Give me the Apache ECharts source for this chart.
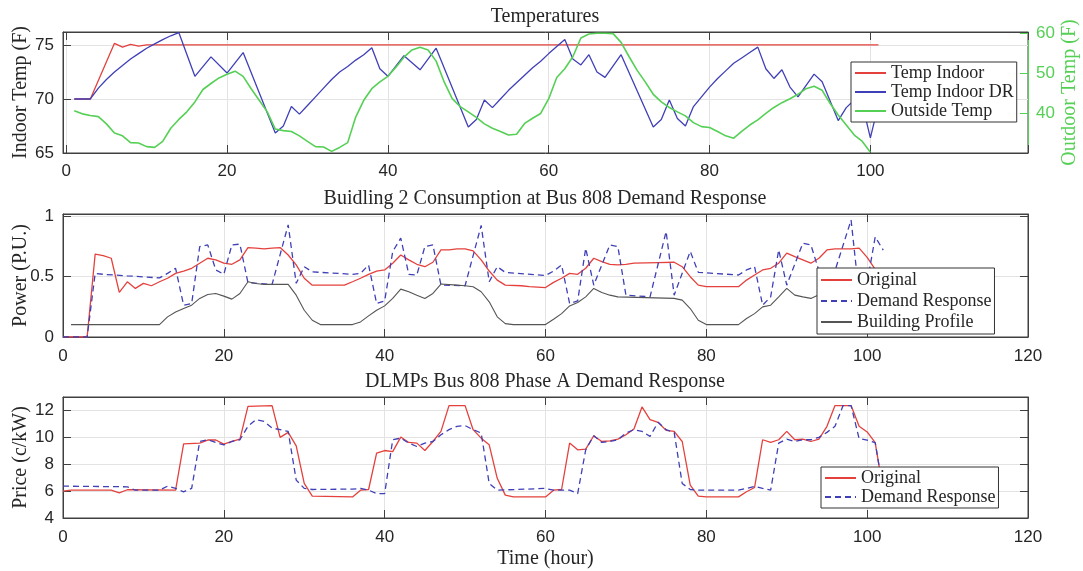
<!DOCTYPE html>
<html>
<head>
<meta charset="utf-8">
<script src="https://cdn.jsdelivr.net/npm/echarts@6/dist/echarts.min.js"></script>
<style>
  html, body { margin: 0; background: #fff; }
  #main { width: 1083px; height: 571px; }
</style>
</head>
<body>
<div id="main"></div>
<script>
// ---- Temperatures panel ----
var indoorHours = [1, 3, 6, 7, 8, 9, 10, 101];
var indoorTemp  = [70, 70, 75.15, 74.8, 75.05, 74.9, 75, 75];

var indoorDRHours = [1, 3, 4, 5, 6, 7, 8, 9, 10, 11, 12, 13, 14, 16, 18, 20, 22, 26, 27, 28, 29, 30, 31, 32, 33, 34, 35, 36, 37, 38,
  39, 40, 42, 44, 46, 50, 51, 52, 53, 54, 55, 56, 57, 58, 59, 60, 61, 62, 63, 64, 65, 66, 67, 69, 73, 74, 75, 76, 77, 78,
  79, 80, 81, 82, 83, 84, 85, 86, 87, 88, 89, 90, 91, 93, 94, 96, 97, 98, 99, 100, 101];
var indoorDRTemp  = [70, 70, 71.0, 71.8, 72.5, 73.1, 73.7, 74.2, 74.7, 75.1, 75.5, 75.85, 76.15, 72.1, 73.9, 72.4, 74.3, 66.85, 67.5, 69.3, 68.6, 69.4, 70.2, 71.0, 71.8, 72.5, 73.0, 73.6, 74.1, 74.75,
  72.8, 72.1, 74.0, 72.7, 74.7, 67.4, 68.1, 69.9, 69.2, 70.0, 70.8, 71.5, 72.2, 72.9, 73.5, 74.2, 74.85, 75.5, 73.7, 73.15, 74.1, 72.5, 72.0, 74.1, 67.4, 68.1, 69.9, 68.2, 67.5, 69.3,
  70.2, 71.1, 71.9, 72.6, 73.3, 73.8, 74.3, 74.8, 72.8, 71.9, 72.7, 71.1, 70.2, 72.3, 71.6, 68.0, 69.2, 69.9, 69.5, 66.4, 69.5];

var outsideHours = [1, 2, 3, 4, 5, 6, 7, 8, 9, 10, 11, 12, 13, 14, 15, 16, 17, 18, 19, 20, 21, 22, 23, 24, 25, 26, 27, 28, 29, 30,
  31, 32, 33, 34, 35, 36, 37, 38, 39, 40, 41, 42, 43, 44, 45, 46, 47, 48, 49, 50, 51, 52, 53, 54, 55, 56, 57, 58, 59, 60,
  61, 62, 63, 64, 65, 66, 67, 68, 69, 70, 71, 72, 73, 74, 75, 76, 77, 78, 79, 80, 81, 82, 83, 84, 85, 86, 87, 88, 89, 90,
  91, 92, 93, 94, 95, 96, 97, 98, 99, 100];
var outsideTemp  = [40.6, 39.8, 39.4, 39.1, 37.3, 35.0, 34.3, 32.6, 32.5, 31.6, 31.4, 32.9, 36.2, 38.4, 40.3, 42.8, 45.9, 47.4, 48.8, 49.7, 50.5, 49.2, 46.1, 43.2, 40.3, 36.0, 35.6, 35.4, 34.3, 32.9,
  31.6, 31.5, 30.4, 31.4, 32.6, 39.0, 43.2, 46.1, 47.8, 49.2, 51.5, 54.0, 55.8, 56.5, 55.8, 53.0, 47.8, 43.6, 41.6, 40.3, 38.9, 37.3, 36.2, 35.4, 34.5, 34.7, 37.4, 38.7, 39.9, 43.6,
  48.9, 51.1, 54.1, 58.8, 59.8, 60, 60, 59.9, 57.7, 54.1, 50.7, 47.8, 44.7, 42.8, 41.4, 40.3, 39.3, 37.6, 36.6, 36.4, 35.4, 34.3, 33.7, 35.4, 37.0, 38.3, 39.9, 41.4, 42.6, 43.6,
  44.7, 46.1, 46.7, 45.7, 42.4, 39.5, 37.0, 34.5, 32.9, 30.2];

// ---- Consumption panel ----
var powerOrigHours = [0, 3, 4, 5, 6, 7, 8, 9, 10, 11, 12, 13, 14, 15, 16, 17, 18, 19, 20, 21, 22, 23, 24, 25, 26, 27, 28, 29, 30, 31,
  35, 36, 37, 38, 39, 40, 41, 42, 43, 44, 45, 46, 47, 48, 49, 50, 51, 52, 53, 54, 55, 57, 58, 60, 61, 62, 63, 64, 65, 66,
  67, 68, 69, 70, 71, 74, 76, 77, 78, 79, 80, 84, 85, 86, 87, 88, 89, 90, 91, 92, 93, 94, 95, 96, 98, 99, 100, 101];
var powerOrig  = [0, 0, 0.687, 0.675, 0.653, 0.37, 0.458, 0.403, 0.445, 0.425, 0.458, 0.487, 0.528, 0.547, 0.57, 0.612, 0.653, 0.64, 0.612, 0.603, 0.64, 0.742, 0.737, 0.73, 0.737, 0.742, 0.68, 0.598, 0.487, 0.43,
  0.43, 0.458, 0.487, 0.52, 0.547, 0.556, 0.612, 0.68, 0.64, 0.603, 0.583, 0.62, 0.722, 0.722, 0.73, 0.73, 0.714, 0.64, 0.547, 0.472, 0.43, 0.425, 0.417, 0.41, 0.453, 0.487, 0.528, 0.52, 0.57, 0.653,
  0.625, 0.603, 0.598, 0.603, 0.612, 0.617, 0.62, 0.583, 0.5, 0.43, 0.417, 0.417, 0.472, 0.514, 0.556, 0.57, 0.612, 0.695, 0.667, 0.64, 0.612, 0.653, 0.722, 0.73, 0.73, 0.737, 0.66, 0.56];

var powerDRHours = [0, 3, 4, 5, 8, 12, 13, 14, 15, 16, 17, 18, 19, 20, 21, 22, 23, 26, 28, 29, 30, 31, 36, 37, 38, 39, 40, 41, 42, 43,
  44, 45, 46, 47, 50, 52, 53, 54, 55, 60, 61, 62, 63, 64, 65, 66, 68, 69, 70, 73, 75, 76, 78, 79, 84, 85, 86, 87, 88, 89,
  90, 92, 93, 94, 95, 96, 98, 99, 100, 101, 102];
var powerDR  = [0, 0, 0.528, 0.52, 0.507, 0.49, 0.528, 0.57, 0.264, 0.278, 0.75, 0.764, 0.556, 0.52, 0.764, 0.77, 0.45, 0.436, 0.93, 0.445, 0.583, 0.54, 0.52, 0.528, 0.597, 0.278, 0.3, 0.708, 0.82, 0.52,
  0.514, 0.75, 0.764, 0.43, 0.425, 0.925, 0.458, 0.583, 0.536, 0.51, 0.547, 0.597, 0.278, 0.3, 0.736, 0.43, 0.764, 0.75, 0.347, 0.333, 0.875, 0.347, 0.71, 0.536, 0.514, 0.556, 0.583, 0.264, 0.333, 0.722,
  0.43, 0.778, 0.764, 0.55, 0.3, 0.55, 0.97, 0.35, 0.45, 0.83, 0.72];

var profileHours = [1, 12, 13, 14, 15, 16, 17, 18, 19, 20, 21, 22, 23, 24, 25, 28, 29, 30, 31, 32, 36, 37, 38, 39, 40, 41, 42, 43, 44, 45,
  46, 47, 49, 50, 51, 52, 53, 54, 55, 56, 60, 61, 62, 63, 64, 65, 66, 67, 68, 69, 76, 77, 78, 79, 80, 84, 85, 86, 87, 88,
  89, 90, 91, 92, 93, 94, 95, 99, 100, 101];
var profile  = [0.103, 0.103, 0.167, 0.208, 0.236, 0.264, 0.32, 0.353, 0.361, 0.339, 0.314, 0.361, 0.458, 0.444, 0.436, 0.436, 0.347, 0.222, 0.139, 0.103, 0.103, 0.125, 0.175, 0.222, 0.258, 0.32, 0.397, 0.375, 0.347, 0.32,
  0.361, 0.439, 0.43, 0.425, 0.417, 0.375, 0.292, 0.167, 0.111, 0.103, 0.103, 0.147, 0.194, 0.258, 0.286, 0.333, 0.403, 0.369, 0.347, 0.333, 0.32, 0.306, 0.236, 0.139, 0.103, 0.103, 0.153, 0.194, 0.25, 0.264,
  0.333, 0.403, 0.347, 0.333, 0.32, 0.35, 0.42, 0.42, 0.38, 0.3];

// ---- DLMP panel ----
var priceOrigHours = [0, 1, 6, 7, 8, 14, 15, 17, 18, 19, 20, 21, 22, 23, 26, 27, 28, 29, 30, 31, 36, 37, 38, 39, 40, 41, 42, 43, 44, 45,
  46, 47, 48, 50, 51, 52, 53, 54, 55, 56, 60, 61, 62, 63, 64, 65, 66, 67, 68, 69, 70, 71, 72, 73, 74, 75, 76, 77, 78, 79,
  80, 84, 85, 86, 87, 88, 89, 90, 91, 92, 93, 94, 95, 96, 98, 99, 100, 101, 102];
var priceOrig  = [6.0, 6.07, 6.07, 5.87, 6.1, 6.07, 9.52, 9.57, 9.8, 9.8, 9.5, 9.7, 9.87, 12.3, 12.36, 10.0, 10.37, 9.37, 6.57, 5.62, 5.57, 6.07, 6.12, 8.82, 9.02, 8.94, 10.02, 9.62, 9.57, 9.02,
  9.69, 10.44, 12.36, 12.36, 10.57, 9.94, 9.44, 6.95, 5.7, 5.57, 5.57, 6.07, 6.12, 9.57, 9.07, 9.12, 10.12, 9.69, 9.74, 9.87, 10.19, 10.62, 12.26, 11.32, 11.12, 10.52, 10.44, 9.69, 6.45, 5.62,
  5.57, 5.57, 5.95, 6.27, 9.82, 9.62, 9.82, 10.44, 9.82, 9.87, 9.69, 9.87, 10.82, 12.36, 12.36, 10.82, 10.4, 9.6, 6.0];

var priceDRHours = [0, 8, 9, 12, 13, 14, 15, 16, 17, 18, 19, 20, 21, 22, 23, 24, 25, 26, 27, 28, 29, 30, 31, 36, 37, 38, 39, 40, 41, 42,
  43, 44, 45, 46, 47, 48, 49, 50, 51, 52, 53, 54, 60, 61, 63, 64, 65, 66, 67, 68, 69, 70, 71, 72, 73, 74, 75, 76, 77, 78,
  79, 84, 85, 86, 87, 88, 89, 90, 91, 92, 93, 94, 95, 96, 97, 98, 99, 100, 101, 102];
var priceDR  = [6.37, 6.32, 6.07, 6.07, 6.37, 6.2, 5.95, 6.2, 9.69, 9.82, 9.62, 9.44, 9.69, 9.82, 10.82, 11.32, 11.19, 10.69, 10.57, 10.44, 6.82, 6.2, 6.12, 6.15, 6.2, 6.07, 5.82, 5.82, 9.82, 9.94,
  9.57, 9.32, 9.57, 9.69, 10.19, 10.57, 10.82, 10.87, 10.57, 10.32, 6.57, 6.07, 6.2, 6.07, 6.07, 5.82, 9.07, 10.12, 9.62, 9.69, 9.82, 10.32, 10.57, 10.44, 10.07, 11.12, 10.57, 10.37, 6.57, 6.12,
  6.07, 6.07, 6.2, 6.35, 6.2, 6.07, 9.57, 9.87, 9.69, 9.82, 9.82, 10.0, 10.37, 10.82, 12.36, 12.36, 9.9, 9.8, 9.6, 6.0];

function pairs(xs, ys) {
  return xs.map(function (x, i) { return [x, ys[i]]; });
}

var serif = 'Liberation Serif';
var sans = 'Liberation Sans';
var axisColor = '#404040';
var gridColor = '#e3e3e3';
var green = '#55d055';
var red = '#e4413d';
var blue = '#3f3fb8';
var tickFont = 17;

function bottomX(gridIndex, min, max, extra) {
  var ax = {
    type: 'value', gridIndex: gridIndex, position: 'bottom', min: min, max: max,
    axisLine: { show: true, onZero: false, lineStyle: { color: axisColor } },
    axisTick: { show: true, inside: true, length: 8, lineStyle: { color: axisColor } },
    axisLabel: { fontFamily: sans, fontSize: tickFont, color: '#262626', margin: 11 },
    splitLine: { show: true, lineStyle: { color: gridColor } }
  };
  for (var k in extra) ax[k] = extra[k];
  return ax;
}
function topX(gridIndex, min, max, extra) {
  var ax = {
    type: 'value', gridIndex: gridIndex, position: 'top', min: min, max: max,
    axisLine: { show: true, onZero: false, lineStyle: { color: axisColor } },
    axisTick: { show: true, inside: true, length: 8, lineStyle: { color: axisColor } },
    axisLabel: { show: false },
    splitLine: { show: false }
  };
  for (var k in extra) ax[k] = extra[k];
  return ax;
}
function leftY(gridIndex, min, max, interval, name) {
  return {
    type: 'value', gridIndex: gridIndex, position: 'left', min: min, max: max, interval: interval,
    name: name, nameLocation: 'middle', nameGap: 32, nameMoveOverlap: false,
    nameTextStyle: { fontFamily: serif, fontSize: 20, color: '#262626' },
    axisLine: { show: true, onZero: false, lineStyle: { color: axisColor } },
    axisTick: { show: true, inside: true, length: 8, lineStyle: { color: axisColor } },
    axisLabel: { fontFamily: sans, fontSize: tickFont, color: '#262626', margin: 9, showMaxLabel: false },
    splitLine: { show: true, lineStyle: { color: gridColor } }
  };
}
function rightY(gridIndex, min, max, interval) {
  return {
    type: 'value', gridIndex: gridIndex, position: 'right', min: min, max: max, interval: interval,
    axisLine: { show: true, onZero: false, lineStyle: { color: axisColor } },
    axisTick: { show: true, inside: true, length: 8, lineStyle: { color: axisColor } },
    axisLabel: { show: false },
    splitLine: { show: false }
  };
}

var topFmt = function (v) { return Math.abs(v % 20) < 1e-6 ? String(Math.round(v)) : ''; };

var legendBase = {
  orient: 'vertical', backgroundColor: '#fff', borderColor: '#333', borderWidth: 1, borderRadius: 0,
  padding: [2, 3, 2, 3], itemGap: 1, itemWidth: 31, itemHeight: 14,
  itemStyle: { opacity: 0 },
  textStyle: { fontFamily: serif, fontSize: 18, color: '#262626' }
};
function legend(extra) {
  var l = {};
  for (var k in legendBase) l[k] = legendBase[k];
  for (var j in extra) l[j] = extra[j];
  return l;
}

var titleStyle = { fontFamily: serif, fontSize: 20, fontWeight: 'normal', color: '#262626' };

var chart = echarts.init(document.getElementById('main'), null, { renderer: 'canvas' });

var option = {
  backgroundColor: '#fff',
  animation: false,
  title: [
    { text: 'Temperatures', left: 545, top: 7, textAlign: 'center', padding: 0, textStyle: titleStyle },
    { text: 'Buidling 2 Consumption at Bus 808 Demand Response', left: 545, top: 189, textAlign: 'center', padding: 0, textStyle: titleStyle },
    { text: 'DLMPs Bus 808 Phase A Demand Response', left: 545, top: 372, textAlign: 'center', padding: 0, textStyle: titleStyle }
  ],
  grid: [
    { left: 63, top: 32, width: 965, height: 121, show: true, borderColor: axisColor, borderWidth: 1, containLabel: false, outerBoundsMode: 'none' },
    { left: 63, top: 214, width: 965, height: 123, show: true, borderColor: axisColor, borderWidth: 1, containLabel: false, outerBoundsMode: 'none' },
    { left: 63, top: 397, width: 965, height: 121, show: true, borderColor: axisColor, borderWidth: 1, containLabel: false, outerBoundsMode: 'none' }
  ],
  xAxis: [
    bottomX(0, -0.4, 119.6, { splitNumber: 6, axisLabel: { fontFamily: sans, fontSize: tickFont, color: '#262626', margin: 10, formatter: topFmt } }),
    topX(0, -0.4, 119.6, { splitNumber: 6 }),
    bottomX(1, 0, 120, { interval: 20 }),
    topX(1, 0, 120, { interval: 20 }),
    bottomX(2, 0, 120, { interval: 20, name: 'Time (hour)', nameLocation: 'middle', nameGap: 31, nameMoveOverlap: false,
      nameTextStyle: { fontFamily: serif, fontSize: 20, color: '#262626' } }),
    topX(2, 0, 120, { interval: 20 })
  ],
  yAxis: [
    leftY(0, 65, 76.2, 5, 'Indoor Temp (F)'),
    {
      type: 'value', gridIndex: 0, position: 'right', min: 30, max: 60.3, interval: 10,
      name: 'Outdoor Temp (F)', nameLocation: 'middle', nameGap: 32, nameMoveOverlap: false,
      nameTextStyle: { fontFamily: serif, fontSize: 20, color: green },
      axisLine: { show: true, onZero: false, lineStyle: { color: green } },
      axisTick: { show: true, inside: true, length: 8, lineStyle: { color: green } },
      axisLabel: { fontFamily: sans, fontSize: tickFont, color: green, margin: 8, showMinLabel: false, showMaxLabel: false },
      splitLine: { show: false }
    },
    leftY(1, 0, 1.02, 0.5, 'Power (P.U.)'),
    rightY(1, 0, 1.02, 0.5),
    leftY(2, 4, 13, 2, 'Price (c/kW)'),
    rightY(2, 4, 13, 2)
  ],
  legend: [
    legend({ data: ['Temp Indoor', 'Temp Indoor DR', 'Outside Temp'], left: 851, top: 62 }),
    legend({ data: ['Original', 'Demand Response', 'Building Profile'], left: 817, top: 268, itemGap: 3, padding: [3, 3, 3, 3] }),
    legend({ data: ['Original', 'Demand Response'], left: 821, top: 467 })
  ],
  series: [
    { name: 'Temp Indoor', type: 'line', xAxisIndex: 0, yAxisIndex: 0, data: pairs(indoorHours, indoorTemp),
      symbol: 'none', showSymbol: false, lineStyle: { color: red, width: 1.3 }, itemStyle: { color: red } },
    { name: 'Temp Indoor DR', type: 'line', xAxisIndex: 0, yAxisIndex: 0, data: pairs(indoorDRHours, indoorDRTemp),
      symbol: 'none', showSymbol: false, lineStyle: { color: blue, width: 1.3 }, itemStyle: { color: blue } },
    { name: 'Outside Temp', type: 'line', xAxisIndex: 0, yAxisIndex: 1, data: pairs(outsideHours, outsideTemp),
      symbol: 'none', showSymbol: false, lineStyle: { color: green, width: 1.6 }, itemStyle: { color: green } },

    { name: 'Original', type: 'line', xAxisIndex: 2, yAxisIndex: 2, data: pairs(powerOrigHours, powerOrig),
      symbol: 'none', showSymbol: false, lineStyle: { color: red, width: 1.3 }, itemStyle: { color: red } },
    { name: 'Demand Response', type: 'line', xAxisIndex: 2, yAxisIndex: 2, data: pairs(powerDRHours, powerDR),
      symbol: 'none', showSymbol: false, lineStyle: { color: blue, width: 1.3, type: [6, 4] }, itemStyle: { color: blue } },
    { name: 'Building Profile', type: 'line', xAxisIndex: 2, yAxisIndex: 2, data: pairs(profileHours, profile),
      symbol: 'none', showSymbol: false, lineStyle: { color: '#555', width: 1.1 }, itemStyle: { color: '#555' } },

    { name: 'Original', type: 'line', xAxisIndex: 4, yAxisIndex: 4, data: pairs(priceOrigHours, priceOrig),
      symbol: 'none', showSymbol: false, lineStyle: { color: red, width: 1.3 }, itemStyle: { color: red } },
    { name: 'Demand Response', type: 'line', xAxisIndex: 4, yAxisIndex: 4, data: pairs(priceDRHours, priceDR),
      symbol: 'none', showSymbol: false, lineStyle: { color: blue, width: 1.3, type: [6, 4] }, itemStyle: { color: blue } }
  ]
};

chart.setOption(option);
</script>
</body>
</html>
